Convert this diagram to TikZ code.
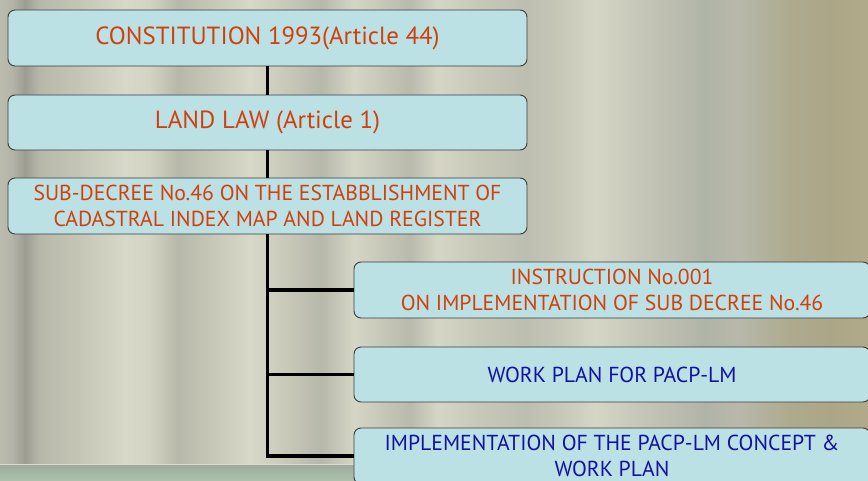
\documentclass[tikz,border=0pt]{standalone}
\usepackage{fontspec}
\setmainfont{PT Sans}
\usepackage{xcolor}
\usetikzlibrary{calc}

\definecolor{boxfill}{HTML}{BCE1E5}
\definecolor{boxline}{HTML}{3C3C3C}
\definecolor{lawred}{HTML}{D0400C}
\definecolor{planblue}{HTML}{1212A0}

\pgfdeclarehorizontalshading{wall}{100bp}{rgb(0bp)=(.737,.737,.682); rgb(25bp)=(.737,.737,.682); rgb(25.7bp)=(.706,.706,.659); rgb(26.44bp)=(.612,.612,.573); rgb(27.3bp)=(.722,.722,.667); rgb(29.6bp)=(.776,.776,.714); rgb(32.2bp)=(.847,.847,.784); rgb(33.6bp)=(.831,.831,.769); rgb(35.25bp)=(.722,.722,.667); rgb(36.8bp)=(.769,.769,.706); rgb(39.4bp)=(.847,.847,.784); rgb(41.1bp)=(.8,.8,.737); rgb(43.5bp)=(.714,.722,.667); rgb(45.4bp)=(.839,.839,.776); rgb(48.6bp)=(.729,.729,.675); rgb(50.2bp)=(.839,.839,.776); rgb(52.6bp)=(.784,.784,.722); rgb(55.3bp)=(.737,.745,.69); rgb(57.3bp)=(.784,.784,.722); rgb(59.3bp)=(.839,.839,.776); rgb(61.9bp)=(.776,.776,.722); rgb(65.6bp)=(.69,.706,.651); rgb(67.6bp)=(.722,.722,.667); rgb(70.5bp)=(.682,.667,.557); rgb(72.8bp)=(.675,.651,.533); rgb(75bp)=(.69,.667,.541); rgb(100bp)=(.69,.667,.541)}

\tikzset{
	lawbox/.style={draw=boxline, line width=0.8pt, fill=boxfill, rounded corners=6pt, inner sep=0pt, align=center, minimum width=15.57cm, minimum height=1.68cm},
	bigtext/.style={font=\fontsize{21.2}{25}\selectfont, text=lawred},
	smalltext/.style={font=\fontsize{18.5}{21.5}\selectfont},
	branchbox/.style={lawbox, smalltext, minimum width=15.48cm}
}

\begin{document}
\begin{tikzpicture}[x=0.03cm, y=-0.03cm]
					\useasboundingbox (0,0) rectangle (868,481);
					
					\begin{scope}
						\shade[shading=wall] (0,0) rectangle (868,481);
						\shade[top color=black!20!green!10!gray!70, bottom color=gray!50!green!20!white!80!black] (0,464) rectangle (868,481);
						\draw[white!70!gray, line width=0.6pt] (0,464) -- (868,464);
					\end{scope}
					
					\node[lawbox, bigtext] (const) at (267.5,38) {CONSTITUTION 1993(Article 44)};
					\node[lawbox, bigtext, minimum height=1.65cm] (law) at (267.5,122.5) {LAND LAW (Article 1)};
					\node[lawbox, smalltext, text=lawred] (decree) at (267.5,206) {SUB-DECREE No.46 ON THE ESTABBLISHMENT OF\\CADASTRAL INDEX MAP AND LAND REGISTER};
					
					\node[branchbox, text=lawred] (instr) at (612,290) {INSTRUCTION No.001\\ON IMPLEMENTATION OF SUB DECREE No.46};
					\node[branchbox, text=planblue, minimum height=1.65cm] (plan) at (612,374.5) {WORK PLAN FOR PACP-LM};
					\node[branchbox, text=planblue] (impl) at (612,456) {IMPLEMENTATION OF THE PACP-LM CONCEPT \&\\WORK PLAN};
					
					\begin{scope}[line width=2.6pt]
						\draw (const) -- (law);
						\draw (law) -- (decree);
						\draw (decree.south) |- (instr.west);
						\draw (decree.south) |- (plan.west);
						\draw (decree.south) |- (impl.west);
					\end{scope}
				\end{tikzpicture}
\end{document}
